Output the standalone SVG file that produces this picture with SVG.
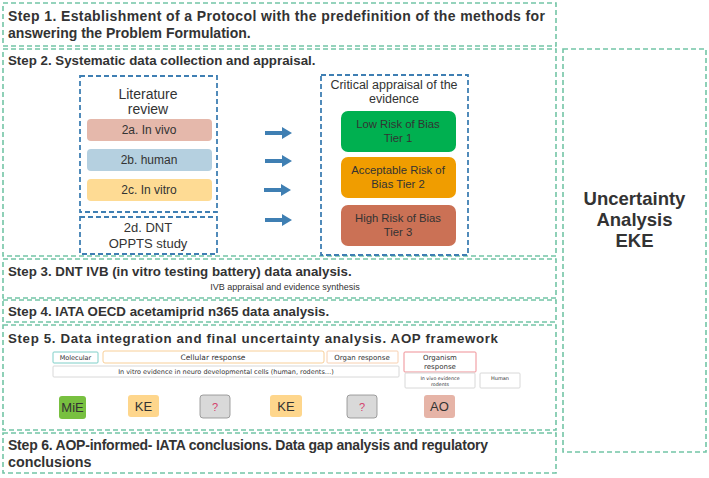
<svg xmlns="http://www.w3.org/2000/svg" width="709" height="478" viewBox="0 0 709 478">
<style>
.step{fill:none;stroke:#73c5a6;stroke-width:1.6;stroke-dasharray:5 3}
.blue{fill:none;stroke:#3f7fb3;stroke-width:1.8;stroke-dasharray:5 3}
.h{font-family:"Liberation Sans",Arial,sans-serif;font-weight:bold;font-size:13.3px;fill:#333}
.t{font-family:"Liberation Sans",Arial,sans-serif;font-size:12px;fill:#333;text-anchor:middle}
.s{font-family:"DejaVu Sans",Verdana,sans-serif;font-size:6.5px;fill:#333;text-anchor:middle}
.lab{fill:#fff;stroke-width:1}
.ev{font-family:"Liberation Sans",Arial,sans-serif;font-size:13px;fill:#333;text-anchor:middle}
.arrow{fill:#3f7fb3}
</style>
<rect width="709" height="478" fill="#fff"/>

<g id="step1">
<rect class="step" x="3" y="3" width="553" height="43"/>
<text class="h" x="8" y="21" style="font-size:14px" textLength="537" lengthAdjust="spacing">Step 1. Establishment of a Protocol with the predefinition of the methods for</text>
<text class="h" x="8" y="38" style="font-size:14px">answering the Problem Formulation.</text>
</g>

<g id="step2">
<rect class="step" x="3" y="49" width="553" height="207"/>
<text class="h" x="8" y="65">Step 2. Systematic data collection and appraisal.</text>
</g>

<g id="literature-review">
<rect class="blue" x="80" y="76" width="137" height="136"/>
<text class="t" x="148" y="99" style="font-size:14px">Literature</text>
<text class="t" x="148" y="114" style="font-size:14px">review</text>
</g>
<g id="in-vivo">
<rect x="87" y="119" width="125" height="22" rx="4" fill="#e5b8ab"/>
<text class="t" x="149" y="134">2a. In vivo</text>
</g>
<g id="human">
<rect x="87" y="149" width="125" height="22" rx="4" fill="#b5d0e0"/>
<text class="t" x="149" y="164">2b. human</text>
</g>
<g id="in-vitro">
<rect x="87" y="179" width="125" height="22" rx="4" fill="#fedb94"/>
<text class="t" x="149" y="194">2c. In vitro</text>
</g>
<g id="dnt-oppts">
<rect class="blue" x="80" y="217" width="137" height="37"/>
<text class="t" x="148" y="232" style="font-size:13px">2d. DNT</text>
<text class="t" x="148" y="248" style="font-size:13px">OPPTS study</text>
</g>

<g id="critical-appraisal">
<rect class="blue" x="321" y="75" width="147" height="180"/>
<text class="t" x="394" y="89" style="font-size:12.5px">Critical appraisal of the</text>
<text class="t" x="394" y="103" style="font-size:12.5px">evidence</text>
</g>
<g id="tier1">
<rect x="341" y="111" width="115" height="41" rx="7" fill="#00b050"/>
<text class="t" x="398" y="128" style="font-size:11.3px">Low Risk of Bias</text>
<text class="t" x="398" y="142" style="font-size:11.3px">Tier 1</text>
</g>
<g id="tier2">
<rect x="341" y="157" width="115" height="41" rx="7" fill="#f09d00"/>
<text class="t" x="398" y="174" style="font-size:11.3px">Acceptable Risk of</text>
<text class="t" x="398" y="188" style="font-size:11.3px">Bias Tier 2</text>
</g>
<g id="tier3">
<rect x="341" y="205" width="115" height="41" rx="7" fill="#cb7155"/>
<text class="t" x="398" y="222" style="font-size:11.3px">High Risk of Bias</text>
<text class="t" x="398" y="236" style="font-size:11.3px">Tier 3</text>
</g>

<g id="step3">
<rect class="step" x="3" y="259" width="553" height="39"/>
<text class="h" x="8" y="276">Step 3. DNT IVB (in vitro testing battery) data analysis.</text>
<text x="285" y="290" font-family="Liberation Sans,Arial,sans-serif" font-size="9" fill="#333" text-anchor="middle">IVB appraisal and evidence synthesis</text>
</g>

<g id="step4">
<rect class="step" x="3" y="300" width="553" height="22"/>
<text class="h" x="8" y="316">Step 4. IATA OECD acetamiprid n365 data analysis.</text>
</g>

<g id="step5">
<rect class="step" x="3" y="325" width="553" height="105"/>
<text class="h" x="8" y="343" textLength="490" lengthAdjust="spacing">Step 5. Data integration and final uncertainty analysis. AOP framework</text>
</g>

<g id="aop-levels">
<rect class="lab" x="53" y="352" width="45" height="11" rx="1" stroke="#7fcfc8"/>
<text class="s" x="75.5" y="360">Molecular</text>
<rect class="lab" x="103" y="351" width="221" height="12" rx="2" stroke="#f8cf98"/>
<text class="s" x="213" y="360" style="font-size:7.5px">Cellular response</text>
<rect class="lab" x="327" y="351" width="71" height="12" rx="1" stroke="#f8d0b0"/>
<text class="s" x="362" y="360" style="font-size:7px">Organ response</text>
<rect class="lab" x="404" y="352" width="72" height="20" rx="1" stroke="#ef8f95"/>
<text class="s" x="440" y="360" style="font-size:7px">Organism</text>
<text class="s" x="440" y="369" style="font-size:7px">response</text>
<rect class="lab" x="53" y="366" width="346" height="11" rx="1" stroke="#d8d8d8"/>
<text class="s" x="226" y="374">In vitro evidence in neuro developmental cells (human, rodents…)</text>
<rect class="lab" x="405" y="373" width="70" height="15" rx="1" stroke="#d8d8d8"/>
<text class="s" x="440" y="379.5" style="font-size:4.8px">In vivo evidence</text>
<text class="s" x="440" y="385.5" style="font-size:4.8px">rodents</text>
<rect class="lab" x="480" y="373" width="40" height="15" rx="1" stroke="#d8d8d8"/>
<text class="s" x="500" y="380" style="font-size:5px">Human</text>
</g>

<g id="mie">
<rect x="59" y="396" width="27" height="23" rx="3" fill="#78c040"/>
<text class="ev" x="72.5" y="412">MiE</text>
</g>
<g id="ke1">
<rect x="128" y="395" width="31" height="22" rx="3" fill="#fed68c"/>
<text class="ev" x="143.5" y="411">KE</text>
</g>
<g id="unknown1">
<rect x="200" y="395" width="30" height="23" rx="3" fill="#d9d9d9" stroke="#8a8a8a" stroke-width="0.8"/>
<text class="ev" x="215" y="411" style="fill:#d4406c;font-size:11px">?</text>
</g>
<g id="ke2">
<rect x="270" y="395" width="32" height="22" rx="3" fill="#fed68c"/>
<text class="ev" x="286" y="411">KE</text>
</g>
<g id="unknown2">
<rect x="347" y="395" width="30" height="23" rx="3" fill="#d9d9d9" stroke="#8a8a8a" stroke-width="0.8"/>
<text class="ev" x="362" y="411" style="fill:#d4406c;font-size:11px">?</text>
</g>
<g id="ao">
<rect x="424" y="395" width="31" height="23" rx="3" fill="#e6b4a7"/>
<text class="ev" x="439.5" y="411">AO</text>
</g>

<g id="step6">
<rect class="step" x="3" y="433" width="553" height="40"/>
<text class="h" x="8" y="450" style="font-size:14px" textLength="480" lengthAdjust="spacing">Step 6.  AOP-informed- IATA conclusions. Data gap analysis and regulatory</text>
<text class="h" x="8" y="467" style="font-size:14.3px">conclusions</text>
</g>

<g id="uncertainty">
<rect class="step" x="563" y="49" width="143" height="403"/>
<text class="h" x="634.5" y="205" style="font-size:18.5px" text-anchor="middle">Uncertainty</text>
<text class="h" x="634.5" y="226" style="font-size:18.5px" text-anchor="middle">Analysis</text>
<text class="h" x="634.5" y="247" style="font-size:18.5px" text-anchor="middle">EKE</text>
</g>

<g id="connectors">
<path class="arrow" d="M265 131h17v-4l10 6l-10 6v-4h-17z"/>
<path class="arrow" d="M265 159h17v-4l10 6l-10 6v-4h-17z"/>
<path class="arrow" d="M264 188h17v-4l10 6l-10 6v-4h-17z"/>
<path class="arrow" d="M265 218h17v-4l10 6l-10 6v-4h-17z"/>
</g>
</svg>
